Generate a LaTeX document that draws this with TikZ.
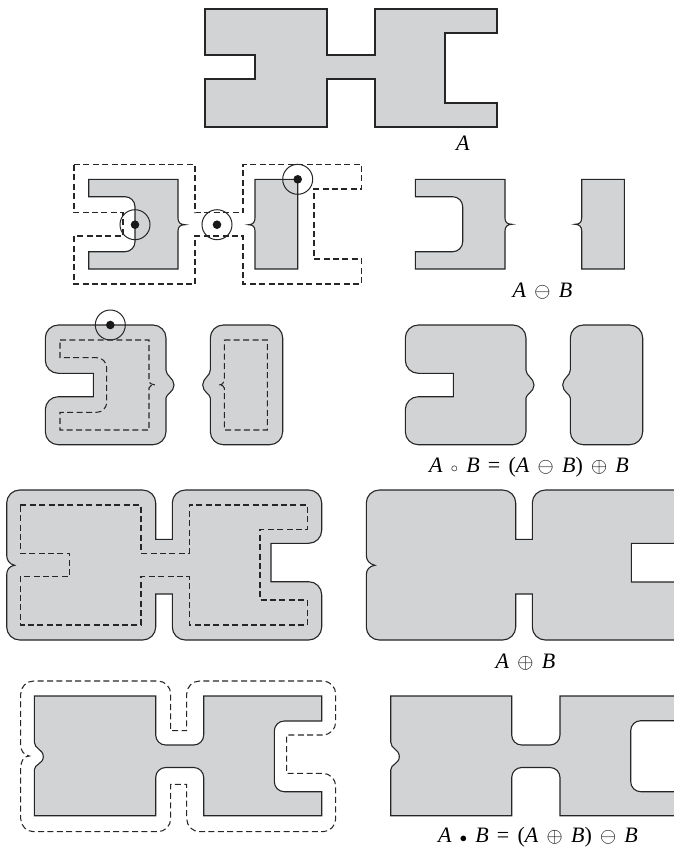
\documentclass[tikz,border=0pt]{standalone}
\usepackage{fontspec}
\setmainfont[WordSpace=1.5]{Liberation Serif}
\usepackage{xcolor}
\usepackage{tikz}
\usetikzlibrary{positioning}
\definecolor{regiongray}{HTML}{D1D3D4}
\newcommand{\setA}{\textit{A}}
\newcommand{\setB}{\textit{B}}

\begin{document}
\begin{tikzpicture}[
        x=1pt, y=-1pt,
        region/.style={draw=black!85, line width=1.1pt, fill=regiongray, line join=miter},
        trace/.style={draw=black!85, line width=1.05pt, dash pattern=on 6pt off 3.4pt},
        probe/.style={circle, draw=black!85, line width=1pt, minimum size=30pt, inner sep=0pt},
        probedot/.style={circle, fill=black!90, minimum size=8.6pt, inner sep=0pt},
        caption/.style={font=\fontsize{22}{24}\selectfont, inner sep=0pt, anchor=base}
    ]
        \clip (0,0) rectangle (674,847);

        % set A
        \draw[region] (205,9) -- (327,9) -- (327,55) -- (375,55) -- (375,9) -- (497,9) -- (497,33) -- (445,33) -- (445,103) -- (497,103) -- (497,127) -- (375,127) -- (375,79) -- (327,79) -- (327,127) -- (205,127) -- (205,79) -- (255,79) -- (255,55) -- (205,55) -- cycle;
        \node[caption] (labelA) at (463,150) {\setA};

        % erosion, left column
        \draw[region] (88.7,179.3) -- (178,179.3) -- (178,218) .. controls (178,222) and (180,224.7) .. (185,224.7) .. controls (180,224.7) and (178,227) .. (178,231) -- (178,269) -- (88.7,269) -- (88.7,251.7) [rounded corners=10pt] -- (135,251.7) -- (135,196.7) [sharp corners] -- (88.7,196.7) -- cycle;
        \draw[region] (255,179.3) -- (297.7,179.3) -- (297.7,269) -- (255,269) -- (255,231) .. controls (255,227) and (253,224.7) .. (248.5,224.7) .. controls (253,224.7) and (255,222) .. (255,218) -- cycle;
        \draw[trace] (74,164.5) -- (195,164.5) -- (195,212.7) -- (243,212.7) -- (243,164.5) -- (361.7,164.5) -- (361.7,189) -- (314,189) -- (314,259) -- (361.7,259) -- (361.7,284) -- (243,284) -- (243,236) -- (195,236) -- (195,284) -- (74,284) -- (74,236) -- (123,236) -- (123,212.7) -- (74,212.7) -- cycle;
        \node[probe] (probeInside) at (135,224.7) {};
        \node[probedot] (dotInside) at (probeInside) {};
        \node[probe] (probeBridge) at (217,224.7) {};
        \node[probedot] (dotBridge) at (probeBridge) {};
        \node[probe] (probeCorner) at (297.7,179.3) {};
        \node[probedot] (dotCorner) at (probeCorner) {};

        % erosion, right column
        \draw[region] (415.3,179.3) -- (505,179.3) -- (505,218) .. controls (505,222) and (507,224.3) .. (512,224.3) .. controls (507,224.3) and (505,227) .. (505,231) -- (505,269) -- (415.3,269) -- (415.3,251.7) [rounded corners=10pt] -- (462.7,251.7) -- (462.7,196.7) [sharp corners] -- (415.3,196.7) -- cycle;
        \draw[region] (581.7,179.3) -- (624.3,179.3) -- (624.3,269) -- (581.7,269) -- (581.7,231) .. controls (581.7,227) and (579.7,224.3) .. (575,224.3) .. controls (579.7,224.3) and (581.7,222) .. (581.7,218) -- cycle;
        \node[caption] (labelErosion) at (542.5,297) {\setA\ $\ominus$ \setB};

        % opening, left column
        \draw[region, rounded corners=13pt] (93.3,373.3) -- (45.3,373.3) -- (45.3,325) -- (166,325) [sharp corners] -- (166,370) .. controls (166,376) and (174,378) .. (174,385) .. controls (174,392) and (166,394) .. (166,398) [rounded corners=13pt] -- (166,444.7) -- (45.3,444.7) -- (45.3,396.7) [sharp corners] -- (93.3,396.7) -- cycle;
        \draw[region, rounded corners=13pt] (210.3,370) -- (210.3,325) -- (282.7,325) -- (282.7,444.7) -- (210.3,444.7) [sharp corners] -- (210.3,398) .. controls (210.3,394) and (202.7,392) .. (202.7,385) .. controls (202.7,378) and (210.3,376) .. (210.3,370) -- cycle;
        \draw[trace] (60,340) -- (149,340) -- (149,381) .. controls (149,383) and (152,385) .. (155,385) .. controls (152,385) and (149,386) .. (149,388) -- (149,430) -- (60,430) -- (60,412.3) [rounded corners=10pt] -- (106.7,412.3) -- (106.7,357.7) [sharp corners] -- (60,357.7) -- cycle;
        \draw[trace] (224.3,340) -- (267.3,340) -- (267.3,430) -- (224.3,430) -- (224.3,388) .. controls (224.3,386) and (222,385) .. (218.5,385) .. controls (222,385) and (224.3,383) .. (224.3,380) -- cycle;
        \node[probe] (probeTop) at (110.3,325) {};
        \node[probedot] (dotTop) at (probeTop) {};

        % opening, right column
        \draw[region, rounded corners=13pt] (453.3,373.3) -- (405.3,373.3) -- (405.3,325) -- (526,325) [sharp corners] -- (526,370) .. controls (526,376) and (534,378) .. (534,385) .. controls (534,392) and (526,394) .. (526,398) [rounded corners=13pt] -- (526,444.7) -- (405.3,444.7) -- (405.3,396.7) [sharp corners] -- (453.3,396.7) -- cycle;
        \draw[region, rounded corners=13pt] (570.3,370) -- (570.3,325) -- (642.7,325) -- (642.7,444.7) -- (570.3,444.7) [sharp corners] -- (570.3,398) .. controls (570.3,394) and (562.7,392) .. (562.7,385) .. controls (562.7,378) and (570.3,376) .. (570.3,370) -- cycle;
        \node[caption] (labelOpening) at (529,472) {\setA\ $\scriptstyle\circ$ \setB\ = (\setA\ $\ominus$ \setB) $\oplus$ \setB};

        % dilation, left column
        \draw[region, rounded corners=13pt] (6.7,555) -- (6.7,490) -- (155.7,490) [sharp corners] -- (155.7,539.3) -- (172.3,539.3) [rounded corners=13pt] -- (172.3,490) -- (321.7,490) -- (321.7,543.3) [sharp corners] -- (271,543.3) -- (271,581.7) [rounded corners=13pt] -- (321.7,581.7) -- (321.7,640) -- (172.3,640) [sharp corners] -- (172.3,594) -- (155.7,594) [rounded corners=13pt] -- (155.7,640) -- (6.7,640) [sharp corners] -- (6.7,575) .. controls (6.7,570) and (9,566) .. (14.7,565.3) .. controls (9,564) and (6.7,560) .. (6.7,555) -- cycle;
        \draw[trace] (20.3,505) -- (141,505) -- (141,553.3) -- (189.3,553.3) -- (189.3,505) -- (307.3,505) -- (307.3,529.7) -- (260,529.7) -- (260,600) -- (307.3,600) -- (307.3,625) -- (189.3,625) -- (189.3,576.7) -- (141,576.7) -- (141,625) -- (20.3,625) -- (20.3,576.7) -- (69.7,576.7) -- (69.7,553.3) -- (20.3,553.3) -- cycle;

        % dilation, right column
        \draw[region, rounded corners=13pt] (366.3,555) -- (366.3,490) -- (515.7,490) [sharp corners] -- (515.7,539.3) -- (532.3,539.3) [rounded corners=13pt] -- (532.3,490) -- (690,490) [sharp corners] -- (690,543.3) -- (631.3,543.3) -- (631.3,582) -- (690,582) -- (690,640) [rounded corners=13pt] -- (532.3,640) [sharp corners] -- (532.3,594) -- (515.7,594) [rounded corners=13pt] -- (515.7,640) -- (366.3,640) [sharp corners] -- (366.3,575) .. controls (366.3,570) and (369,566) .. (375,565.3) .. controls (369,564) and (366.3,560) .. (366.3,555) -- cycle;
        \node[caption] (labelDilation) at (525.5,668) {\setA\ $\oplus$ \setB};

        % closing, left column
        \draw[region] (34.3,696) -- (155.7,696) [rounded corners=10pt] -- (155.7,745) -- (203.7,745) [sharp corners] -- (203.7,696) -- (321.7,696) -- (321.7,721) [rounded corners=10pt] -- (274.3,721) -- (274.3,791.7) [sharp corners] -- (321.7,791.7) -- (321.7,815.7) -- (203.7,815.7) [rounded corners=10pt] -- (203.7,767.5) -- (155.7,767.5) [sharp corners] -- (155.7,815.7) -- (34.3,815.7) -- (34.3,770) .. controls (34.3,764) and (43.3,764) .. (43.3,756.7) .. controls (43.3,749) and (34.3,749) .. (34.3,742) -- cycle;
        \draw[trace, rounded corners=13pt] (20.7,745) -- (20.7,681) -- (170.7,681) [sharp corners] -- (170.7,730.7) -- (186.7,730.7) [rounded corners=13pt] -- (186.7,681) -- (335.7,681) -- (335.7,735) [sharp corners] -- (286.7,735) -- (286.7,773.3) [rounded corners=13pt] -- (335.7,773.3) -- (335.7,831.7) -- (186.7,831.7) [sharp corners] -- (186.7,784.3) -- (170.7,784.3) [rounded corners=13pt] -- (170.7,831.7) -- (20.7,831.7) [sharp corners] -- (20.7,768) .. controls (20.7,761) and (24,756) .. (29.3,756) .. controls (24,755) and (20.7,751) .. (20.7,745) -- cycle;

        % closing, right column
        \draw[region] (390.7,696) -- (511.7,696) [rounded corners=10pt] -- (511.7,745) -- (560,745) [sharp corners] -- (560,696) -- (690,696) -- (690,720.7) [rounded corners=10pt] -- (630.7,720.7) -- (630.7,791.7) [sharp corners] -- (690,791.7) -- (690,815.7) -- (560,815.7) [rounded corners=10pt] -- (560,767.5) -- (511.7,767.5) [sharp corners] -- (511.7,815.7) -- (390.7,815.7) -- (390.7,770) .. controls (390.7,764) and (399.3,764) .. (399.3,756.7) .. controls (399.3,749) and (390.7,749) .. (390.7,742) -- cycle;
        \node[caption] (labelClosing) at (538,842) {\setA\ $\scriptstyle\bullet$ \setB\ = (\setA\ $\oplus$ \setB) $\ominus$ \setB};
    \end{tikzpicture}
\end{document}
